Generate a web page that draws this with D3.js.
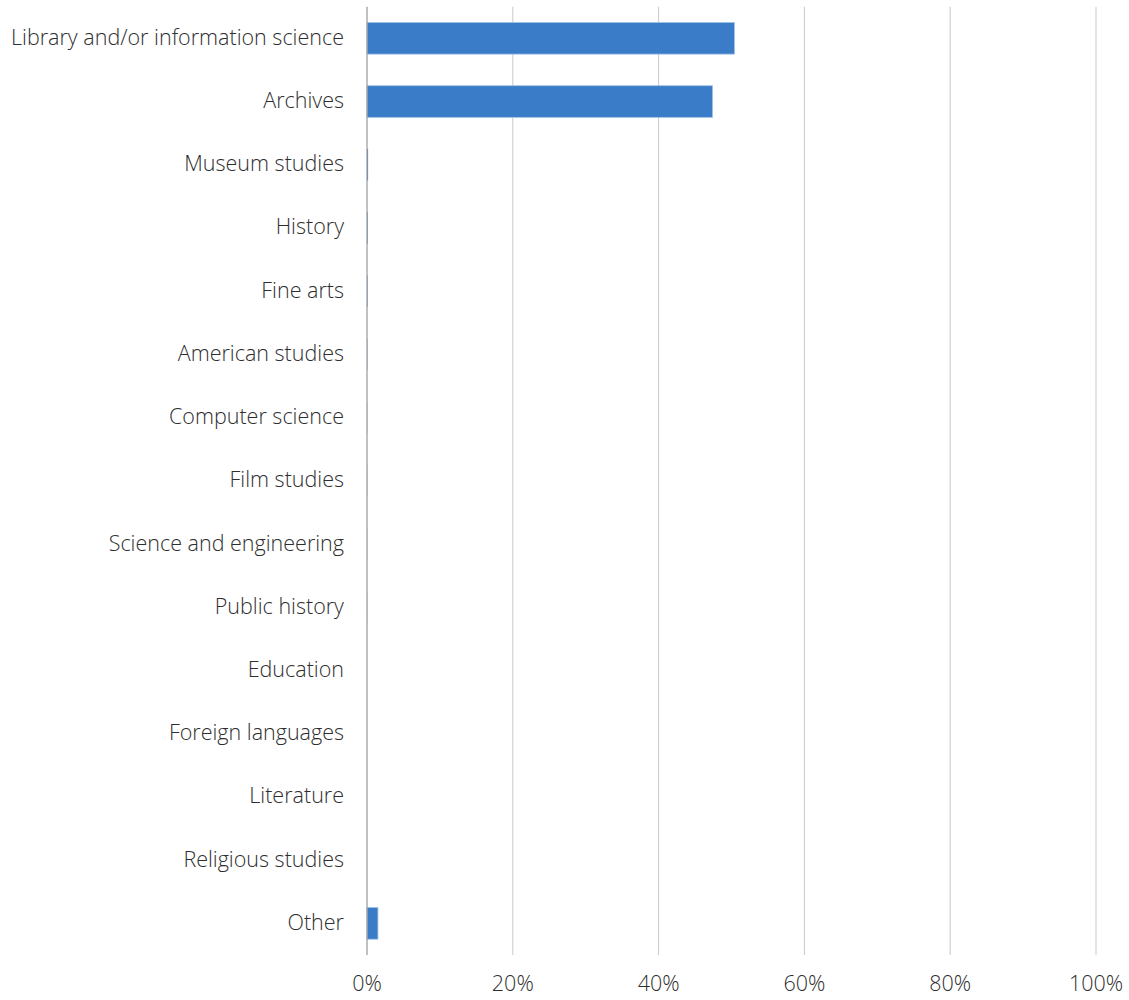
<!DOCTYPE html>
<html><head><meta charset="utf-8">
<script src="https://cdn.jsdelivr.net/npm/d3@7/dist/d3.min.js"></script>
<style>body{margin:0;background:#fff}svg{display:block}</style>
</head><body>
<script>
const categories = ["Library and/or information science","Archives","Museum studies","History","Fine arts","American studies","Computer science","Film studies","Science and engineering","Public history","Education","Foreign languages","Literature","Religious studies","Other"];
const values = [50.4,47.4,0.15,0.1,0.08,0.05,0.03,0.03,0.02,0.02,0,0,0,0,1.5];
const tickValues = [0,20,40,60,80,100];
const tickLabels = ["0%","20%","40%","60%","80%","100%"];

const W=1129,H=1000;
const svg=d3.select("body").append("svg").attr("width",W).attr("height",H);
const x=d3.scaleLinear().domain([0,100]).range([367,1096]);
const y=d3.scaleBand().domain(categories).range([6.7,955]).paddingInner(0.5).paddingOuter(0.25);
const font="'Open Sans', sans-serif";

svg.append("g").selectAll("line").data(tickValues.slice(1)).join("line")
  .attr("x1",d=>x(d)).attr("x2",d=>x(d)).attr("y1",6.7).attr("y2",955)
  .attr("stroke","#c9c9c9").attr("stroke-width",1);

svg.append("g").selectAll("rect").data(categories).join("rect")
  .attr("x",x(0)).attr("y",c=>y(c)).attr("height",y.bandwidth())
  .attr("width",(c,i)=>Math.max(0,x(values[i])-x(0)))
  .attr("fill","#3a7cc8").attr("stroke","#9fc1e8").attr("stroke-width",(c,i)=>values[i]>1?0.8:0);

svg.append("line").attr("x1",x(0)).attr("x2",x(0)).attr("y1",6.7).attr("y2",955)
  .attr("stroke","#a0a0a0").attr("stroke-width",1.3);

svg.append("g").selectAll("text").data(categories).join("text")
  .attr("x",344).attr("y",c=>y(c)+y.bandwidth()/2).attr("dy","0.3em")
  .attr("text-anchor","end").attr("font-family",font).attr("font-size",21.5).attr("font-weight",300)
  .attr("fill","#2e2e2e").text(c=>c);

svg.append("g").selectAll("text").data(tickValues).join("text")
  .attr("x",d=>x(d)).attr("y",985).attr("dy","0.3em").attr("text-anchor","middle")
  .attr("font-family",font).attr("font-size",21.5).attr("font-weight",300).attr("fill","#2e2e2e")
  .text((d,i)=>tickLabels[i]);
</script>
</body></html>
